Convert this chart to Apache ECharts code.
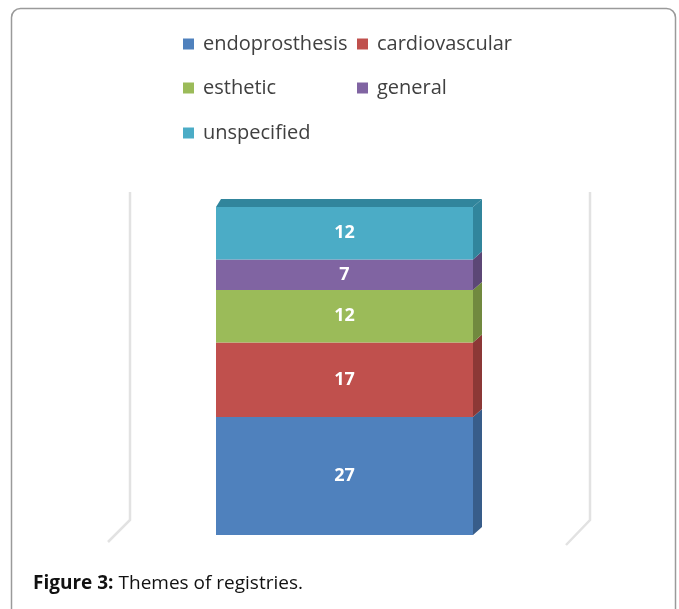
<!DOCTYPE html>
<html lang="en">
<head>
    <meta charset="UTF-8">
    <title>Themes of registries</title>
    <script src="https://cdn.jsdelivr.net/npm/echarts@6/dist/echarts.min.js"></script>
    <style>
        html, body { margin: 0; padding: 0; background: #fff; }
        #main { width: 679px; height: 609px; }
    </style>
</head>
<body>
<div id="main"></div>
<script type="text/javascript">
    // data
    var themes = ['endoprosthesis', 'cardiovascular', 'esthetic', 'general', 'unspecified'];
    var counts = [27, 17, 12, 7, 12];
    var category = ['registries'];

    var faceColors = ['#4F81BD', '#C0504D', '#9BBB59', '#8064A2', '#4BACC6'];
    var sideColors = ['#385D8A', '#8C3836', '#71893F', '#5C4776', '#31859C'];
    var legendPos = [[183, 34], [357, 34], [183, 78], [357, 78], [183, 123]];

    var myChart = echarts.init(document.getElementById('main'));

    var total = counts.reduce(function (a, b) { return a + b; }, 0);
    var series = [];
    var base = 0;
    for (var i = 0; i < themes.length; i++) {
        (function (idx, start) {
            series.push({
                name: themes[idx],
                type: 'custom',
                itemStyle: { color: faceColors[idx] },
                data: [[0, start, start + counts[idx], counts[idx]]],
                renderItem: function (params, api) {
                    var p0 = api.coord([api.value(0), api.value(1)]);
                    var p1 = api.coord([api.value(0), api.value(2)]);
                    var w = api.size([1, 0])[0];
                    var x0 = p0[0] - w / 2, x1 = p0[0] + w / 2;
                    var yb = p0[1], yt = p1[1];
                    var dx = 9, dy = 8;
                    var children = [
                        { type: 'rect', shape: { x: x0, y: yt, width: w, height: yb - yt },
                          style: { fill: faceColors[idx] } },
                        { type: 'polygon', shape: { points: [[x1, yt], [x1 + dx, yt - dy], [x1 + dx, yb - dy], [x1, yb]] },
                          style: { fill: sideColors[idx] } },
                        { type: 'text', x: (x0 + x1) / 2, y: (yt + yb) / 2,
                          style: { text: String(api.value(3)), fill: '#fff', font: 'bold 18px "Open Sans"',
                                   align: 'center', verticalAlign: 'middle' } }
                    ];
                    if (api.value(2) >= total) {
                        children.push({ type: 'polygon',
                            shape: { points: [[x0, yt], [x0 + 5, yt - dy], [x1 + dx, yt - dy], [x1, yt]] },
                            style: { fill: sideColors[idx] } });
                    }
                    return { type: 'group', children: children };
                }
            });
        })(i, base);
        base += counts[i];
    }

    var legends = themes.map(function (name, idx) {
        return {
            data: [name],
            left: legendPos[idx][0],
            top: legendPos[idx][1],
            padding: 0,
            icon: 'rect',
            itemWidth: 11,
            itemHeight: 11,
            itemGap: 0,
            selectedMode: false,
            textStyle: { fontFamily: 'Open Sans', fontSize: 20, color: '#404040', padding: [0, 0, 0, 4], lineHeight: 20 }
        };
    });

    var option = {
        animation: false,
        title: {
            left: 28,
            top: 569,
            text: '{b|Figure 3:} {n|Themes of registries.}',
            textStyle: {
                rich: {
                    b: { fontFamily: 'Open Sans', fontSize: 19, fontWeight: 'bold', color: '#111' },
                    n: { fontFamily: 'Open Sans', fontSize: 19, fontWeight: 'normal', color: '#111' }
                }
            }
        },
        legend: legends,
        grid: { left: 216, top: 207, width: 257, height: 328 },
        xAxis: { type: 'category', data: category, show: false },
        yAxis: { type: 'value', min: 0, max: total, show: false },
        graphic: [
            { type: 'rect', silent: true, z: -1,
              shape: { x: 11.5, y: 8.5, width: 664, height: 700, r: 9 },
              style: { fill: 'none', stroke: '#9a9a9a', lineWidth: 1.5 } },
            { type: 'polyline', silent: true, z: -1,
              shape: { points: [[130, 192], [130, 520], [108, 542]] },
              style: { stroke: '#e2e2e2', lineWidth: 2.5, fill: 'none' } },
            { type: 'polyline', silent: true, z: -1,
              shape: { points: [[590, 192], [590, 520], [566, 545]] },
              style: { stroke: '#e2e2e2', lineWidth: 2.5, fill: 'none' } }
        ],
        series: series
    };

    myChart.setOption(option);
</script>
</body>
</html>
